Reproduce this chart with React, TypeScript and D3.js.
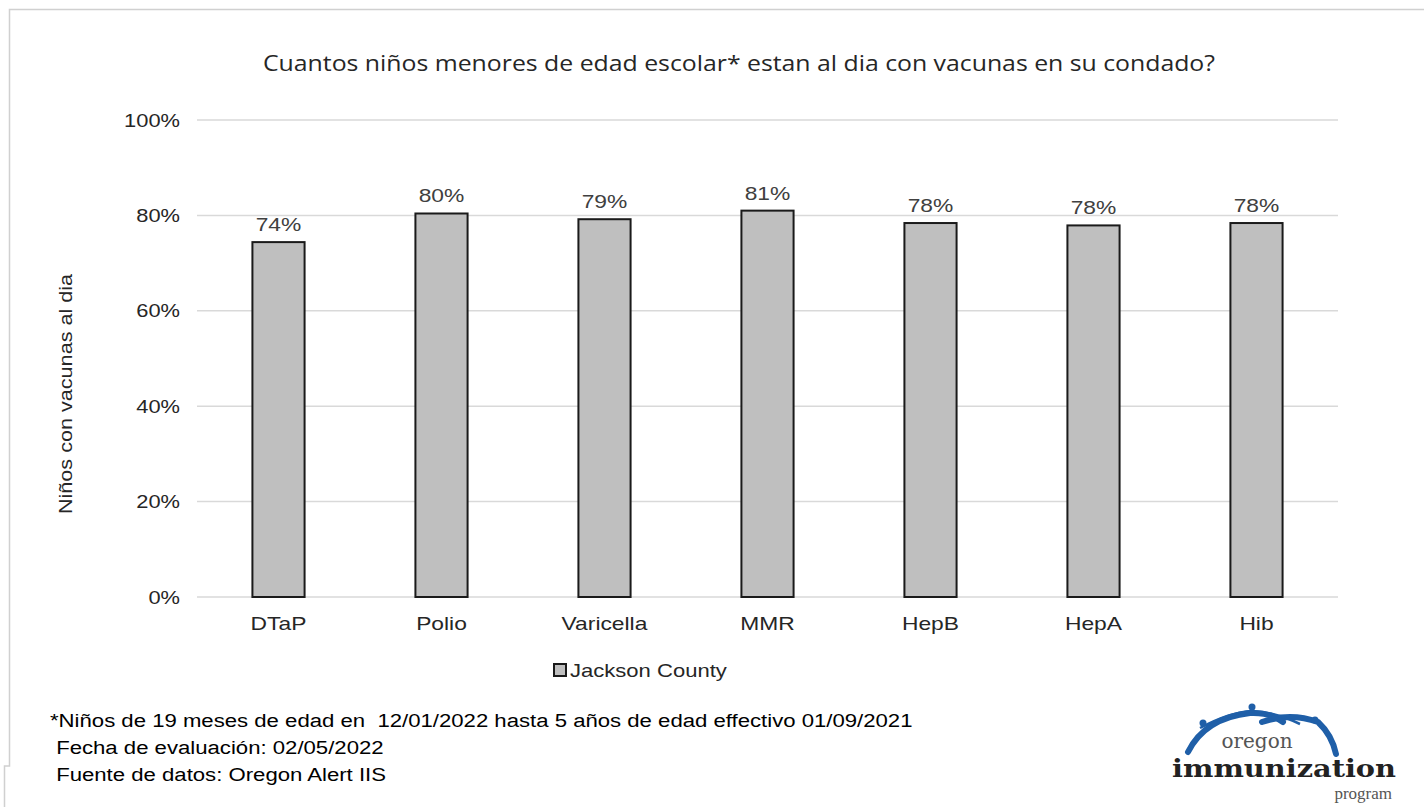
import React, { useEffect, useRef } from "react";
import * as d3 from "d3";

const vaccines = ["DTaP", "Polio", "Varicella", "MMR", "HepB", "HepA", "Hib"];
const jacksonCounty = [0.744, 0.804, 0.792, 0.81, 0.784, 0.779, 0.784];
const yTicks = [0, 0.2, 0.4, 0.6, 0.8, 1];
const seriesName = "Jackson County";
const chartTitle = "Cuantos niños menores de edad escolar* estan al dia con vacunas en su condado?";
const yTitle = "Niños con vacunas al dia";
const footnotes = [
  "*Niños de 19 meses de edad en  12/01/2022 hasta 5 años de edad effectivo 01/09/2021",
  " Fecha de evaluación: 02/05/2022",
  " Fuente de datos: Oregon Alert IIS",
];

const W = 1424;
const H = 807;
const font = "'Liberation Sans', Arial, sans-serif";

// the source text is drawn wider than plain Arial
function widen(k: number) {
  return (sel: any) =>
    sel.each(function (this: SVGTextElement) {
      const w = this.getComputedTextLength();
      this.setAttribute("textLength", String(w * k));
      this.setAttribute("lengthAdjust", "spacingAndGlyphs");
    });
}

export default function App() {
  const svgRef = useRef<SVGSVGElement>(null);

  useEffect(() => {
    const svg = d3.select(svgRef.current);
    svg.selectAll("*").remove();

    const margin = { top: 120, right: 86, bottom: 210, left: 197 };
    const width = W - margin.left - margin.right;
    const height = H - margin.top - margin.bottom;

    // outer frame
    svg.append("path")
      .attr("d", "M1424,9.5 H9.5 V766 H4.5 V807")
      .attr("fill", "none")
      .attr("stroke", "#d0d0d0")
      .attr("stroke-width", 1.5);

    svg.append("text")
      .attr("x", 739)
      .attr("y", 71)
      .attr("text-anchor", "middle")
      .attr("font-family", "'Open Sans', sans-serif")
      .attr("font-size", 22)
      .attr("fill", "#262626")
      .attr("textLength", 952)
      .attr("lengthAdjust", "spacingAndGlyphs")
      .text(chartTitle);

    const x = d3.scaleBand().domain(vaccines).range([0, width]).paddingInner(0.68).paddingOuter(0.34);
    const y = d3.scaleLinear().domain([0, 1]).range([height, 0]);

    const g = svg.append("g").attr("transform", `translate(${margin.left},${margin.top})`);

    g.selectAll(".grid")
      .data(yTicks)
      .join("line")
      .attr("class", "grid")
      .attr("x1", 0)
      .attr("x2", width)
      .attr("y1", d => y(d))
      .attr("y2", d => y(d))
      .attr("stroke", "#d9d9d9")
      .attr("stroke-width", 1.5);

    g.selectAll(".ytick")
      .data(yTicks)
      .join("text")
      .attr("class", "ytick")
      .attr("x", -17)
      .attr("y", d => y(d))
      .attr("dy", "0.35em")
      .attr("text-anchor", "end")
      .attr("font-family", font)
      .attr("font-size", 19)
      .attr("fill", "#262626")
      .text(d => d3.format(".0%")(d))
      .call(widen(1.15));

    g.selectAll(".bar")
      .data(vaccines)
      .join("rect")
      .attr("class", "bar")
      .attr("x", d => x(d)!)
      .attr("y", (d, i) => y(jacksonCounty[i]))
      .attr("width", x.bandwidth())
      .attr("height", (d, i) => height - y(jacksonCounty[i]))
      .attr("fill", "#bfbfbf")
      .attr("stroke", "#1a1a1a")
      .attr("stroke-width", 2);

    g.selectAll(".bar-value")
      .data(vaccines)
      .join("text")
      .attr("class", "bar-value")
      .attr("x", d => x(d)! + x.bandwidth() / 2)
      .attr("y", (d, i) => y(jacksonCounty[i]) - 11)
      .attr("text-anchor", "middle")
      .attr("font-family", font)
      .attr("font-size", 19)
      .attr("fill", "#404040")
      .text((d, i) => d3.format(".0%")(jacksonCounty[i]))
      .call(widen(1.2));

    g.selectAll(".xtick")
      .data(vaccines)
      .join("text")
      .attr("class", "xtick")
      .attr("x", d => x(d)! + x.bandwidth() / 2)
      .attr("y", height + 33)
      .attr("text-anchor", "middle")
      .attr("font-family", font)
      .attr("font-size", 19)
      .attr("fill", "#262626")
      .text(d => d)
      .call(widen(1.2));

    svg.append("text")
      .attr("transform", "translate(72,394) rotate(-90)")
      .attr("text-anchor", "middle")
      .attr("font-family", font)
      .attr("font-size", 18)
      .attr("fill", "#262626")
      .text(yTitle)
      .call(widen(1.2));

    // legend
    svg.append("rect")
      .attr("x", 554)
      .attr("y", 664)
      .attr("width", 12)
      .attr("height", 12)
      .attr("fill", "#bfbfbf")
      .attr("stroke", "#1a1a1a")
      .attr("stroke-width", 2);
    svg.append("text")
      .attr("x", 570)
      .attr("y", 677)
      .attr("font-family", font)
      .attr("font-size", 19)
      .attr("fill", "#262626")
      .text(seriesName)
      .call(widen(1.16));

    // footnotes
    svg.selectAll(".foot")
      .data(footnotes)
      .join("text")
      .attr("class", "foot")
      .attr("x", 50)
      .attr("y", (d, i) => 727 + i * 27)
      .attr("font-family", font)
      .attr("font-size", 18)
      .attr("fill", "#000")
      .style("white-space", "pre")
      .text(d => d)
      .call(widen(1.23));

    // logo
    const logo = svg.append("g");
    const blue = "#1f5fa8";
    logo.append("path")
      .attr("d", "M1188,752 Q1205,718 1250,713 Q1270,712 1283,722")
      .attr("fill", "none").attr("stroke", blue).attr("stroke-width", 6).attr("stroke-linecap", "round");
    logo.append("path")
      .attr("d", "M1262,722 Q1290,712 1318,722 Q1332,735 1336,754")
      .attr("fill", "none").attr("stroke", blue).attr("stroke-width", 6).attr("stroke-linecap", "round");
    logo.append("path")
      .attr("d", "M1200,728 Q1230,712 1252,711 Q1275,712 1300,724")
      .attr("fill", "none").attr("stroke", blue).attr("stroke-width", 2.5);
    [[1203, 723], [1252, 707], [1315, 720]].forEach(([cx, cy]) => {
      logo.append("circle").attr("cx", cx).attr("cy", cy).attr("r", 3.5).attr("fill", blue);
    });
    logo.append("text")
      .attr("x", 1257).attr("y", 748)
      .attr("text-anchor", "middle")
      .attr("font-family", "'DejaVu Serif', 'Liberation Serif', serif")
      .attr("font-size", 20).attr("fill", "#555")
      .text("oregon");
    logo.append("text")
      .attr("x", 1284).attr("y", 777)
      .attr("text-anchor", "middle")
      .attr("font-family", "'DejaVu Serif', 'Liberation Serif', serif")
      .attr("font-weight", "bold")
      .attr("font-size", 25).attr("fill", "#222")
      .attr("textLength", 224).attr("lengthAdjust", "spacingAndGlyphs")
      .text("immunization");
    logo.append("text")
      .attr("x", 1392).attr("y", 799)
      .attr("text-anchor", "end")
      .attr("font-family", "'Liberation Serif', serif")
      .attr("font-size", 17).attr("fill", "#555")
      .text("program");
  }, []);

  return (
    <svg
      ref={svgRef}
      width={W}
      height={H}
      style={{ position: "absolute", left: 0, top: 0, background: "#fff" }}
    />
  );
}
